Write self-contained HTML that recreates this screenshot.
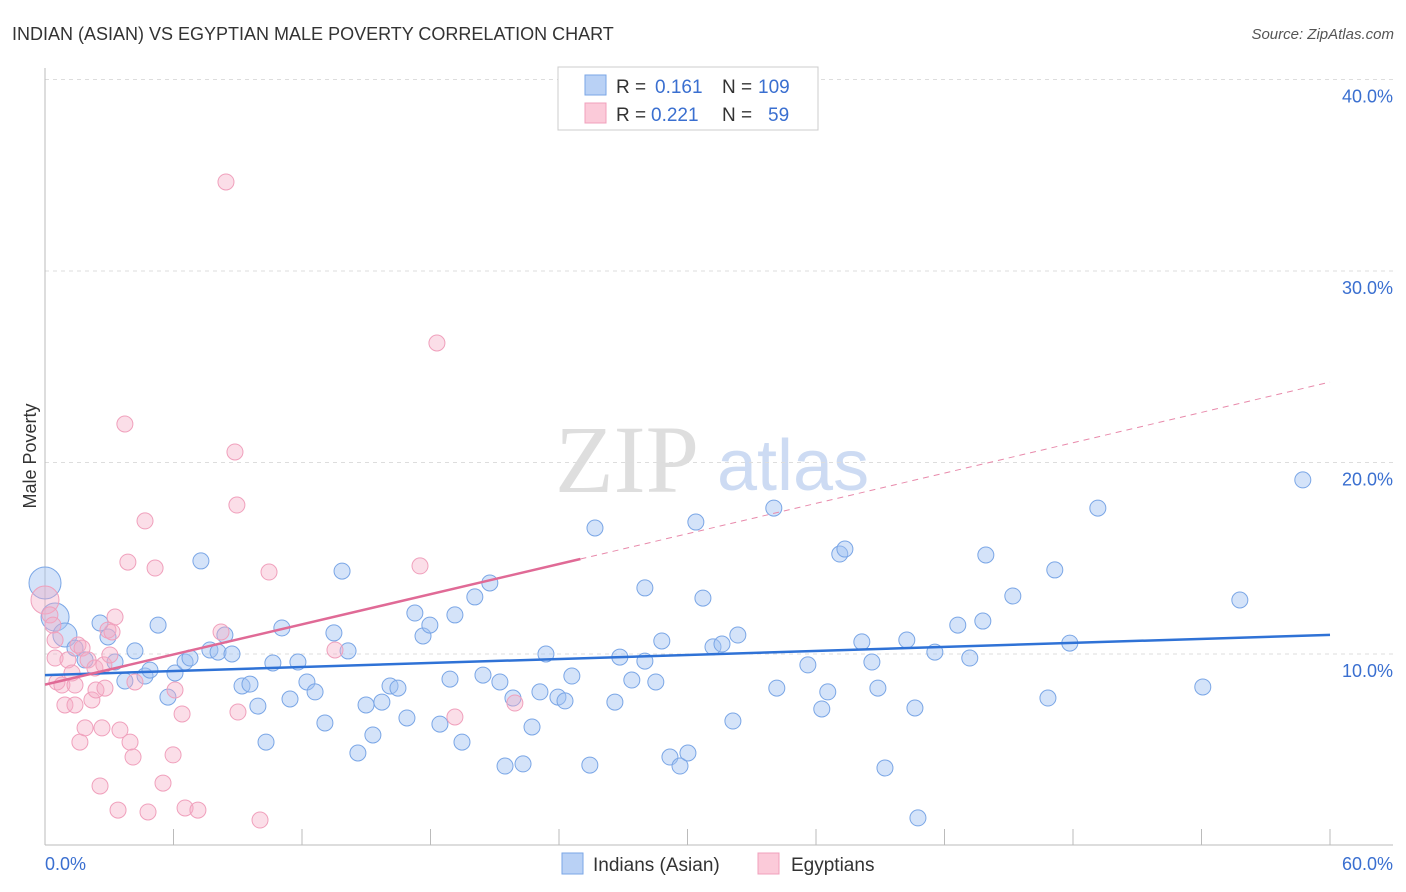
<!DOCTYPE html>
<html><head><meta charset="utf-8"><style>
html,body{margin:0;padding:0;background:#fff;}
svg{display:block;font-family:"Liberation Sans",sans-serif;}
</style></head><body>
<svg id="chart" width="1406" height="892" viewBox="0 0 1406 892">
<text x="12" y="40" font-size="18" fill="#333">INDIAN (ASIAN) VS EGYPTIAN MALE POVERTY CORRELATION CHART</text>
<text x="1394" y="39" font-size="15" fill="#555" font-style="italic" text-anchor="end">Source: ZipAtlas.com</text>
<g>
<text x="555" y="492" font-size="96" font-family="Liberation Serif,serif" fill="#d6d6d6" opacity="0.8">ZIP</text>
<text x="717" y="490" font-size="72" fill="#b8cdee" opacity="0.7">atlas</text>
</g>
<g id="grid"></g>
<g id="axes"></g>
<g id="pts-blue"></g>
<g id="pts-pink"></g>
<g id="trends"></g>
<text x="36" y="456" font-size="18" fill="#333" text-anchor="middle" transform="rotate(-90 36 456)">Male Poverty</text>
<text x="45" y="870" font-size="18" fill="#3a6fd0">0.0%</text>
<text x="1393" y="870" font-size="18" fill="#3a6fd0" text-anchor="end">60.0%</text>
<g>
<rect x="558" y="67" width="260" height="63" fill="#fff" stroke="#ccc"/>
<rect x="585" y="75" width="21" height="20" fill="#b9d1f5" stroke="#7aa6e6"/>
<text x="616" y="93" font-size="19" fill="#333">R =</text><text x="655" y="93" font-size="19" fill="#3a6fd0">0.161</text>
<text x="722" y="93" font-size="19" fill="#333">N =</text><text x="758" y="93" font-size="19" fill="#3a6fd0">109</text>
<rect x="585" y="103" width="21" height="20" fill="#fbcad9" stroke="#f0a0bc"/>
<text x="616" y="121" font-size="19" fill="#333">R =</text><text x="651" y="121" font-size="19" fill="#3a6fd0">0.221</text>
<text x="722" y="121" font-size="19" fill="#333">N =</text><text x="768" y="121" font-size="19" fill="#3a6fd0">59</text>
</g>
<g>
<rect x="562" y="853" width="21" height="21" fill="#b9d1f5" stroke="#7aa6e6"/>
<text x="593" y="871" font-size="19" fill="#333">Indians (Asian)</text>
<rect x="758" y="853" width="21" height="21" fill="#fbcad9" stroke="#f0a0bc"/>
<text x="791" y="871" font-size="19" fill="#333">Egyptians</text>
</g>
</svg>
<script>
const yTicks=[10,20,30,40];
const yTickLabels=["10.0%","20.0%","30.0%","40.0%"];
const xTicks=[0,6,12,18,24,30,36,42,48,54,60];
const blueX=[0,0.47,0.93,1.40,1.87,2.57,2.94,3.27,3.73,4.20,4.67,4.90,5.28,5.74,6.07,6.54,6.77,7.28,7.70,8.08,8.40,8.73,9.20,9.57,9.94,10.32,10.64,11.06,11.44,11.81,12.23,12.61,13.07,13.49,13.87,14.15,14.61,14.99,15.31,15.73,16.11,16.48,16.90,17.27,17.65,17.97,18.44,18.91,19.14,19.47,20.07,20.45,20.77,21.24,21.48,21.85,22.32,22.74,23.11,23.39,23.95,24.28,24.60,25.44,25.68,26.61,26.84,27.40,28.01,28.01,28.52,28.80,29.18,29.65,30.02,30.39,30.72,31.19,31.61,32.12,32.35,34.03,34.17,35.62,36.27,36.55,37.11,37.35,38.14,38.61,38.89,39.22,40.24,40.62,40.76,41.55,42.62,43.18,43.79,43.93,45.19,46.83,47.15,47.85,49.16,54.06,55.79,58.73];
const blueY=[13.71,11.93,10.99,10.31,9.69,11.62,10.89,9.58,8.59,10.16,8.85,9.16,11.51,7.75,9.01,9.58,9.79,14.86,10.21,10.10,10.99,10.00,8.33,8.43,7.28,5.40,9.53,11.36,7.65,9.58,8.54,8.02,6.40,11.10,14.33,10.16,4.83,7.34,5.77,7.49,8.33,8.22,6.66,12.14,10.94,11.51,6.34,8.69,12.04,5.40,12.98,8.90,13.71,8.54,4.15,7.70,4.26,6.19,8.02,10.00,7.75,7.55,8.85,4.20,16.58,7.49,9.84,8.64,13.45,9.63,8.54,10.68,4.62,4.15,4.83,16.89,12.92,10.37,10.52,6.50,10.99,17.62,8.22,9.43,7.13,8.02,15.22,15.48,10.63,9.58,8.22,4.05,10.73,7.18,1.44,10.10,11.51,9.79,11.72,15.17,13.03,7.70,14.39,10.57,17.62,8.28,12.82,19.09];
const blueSize=[16,14,12];
const pinkX=[0,0.23,0.37,0.47,0.47,0.56,0.79,0.93,1.07,1.26,1.40,1.40,1.54,1.63,1.73,1.87,2.01,2.19,2.33,2.38,2.57,2.66,2.75,2.80,2.94,3.03,3.13,3.27,3.41,3.50,3.73,3.87,3.97,4.11,4.20,4.67,4.81,5.14,5.51,5.98,6.07,6.40,6.54,7.14,8.22,8.45,8.87,8.96,9.01,10.04,10.46,13.54,17.51,18.30,19.14,21.94];
const pinkY=[12.82,12.04,11.51,10.73,9.79,8.54,8.38,7.34,9.69,9.01,8.38,7.34,10.47,5.40,10.31,6.14,9.69,7.60,9.27,8.12,3.11,6.14,9.43,8.22,11.25,9.95,11.15,11.93,1.85,6.03,22.01,14.80,5.40,4.62,8.54,16.95,1.75,14.49,3.26,4.73,8.12,6.87,1.96,1.85,11.15,34.65,20.55,17.78,6.97,1.33,14.28,10.21,14.60,26.24,6.71,7.44];
const pinkSize=[14];
const blueTrend=[8.9,11.0];
const pinkTrend=[8.4,14.96,24.2];
const pinkSolidEnd=25;

const X0=45,X1=1330,YB=845.5,PY=19.15;
const sx=v=>X0+(X1-X0)*v/60;
const sy=v=>YB-v*PY;
const NS="http://www.w3.org/2000/svg";
function mk(tag,attrs,parent){const e=document.createElementNS(NS,tag);for(const k in attrs)e.setAttribute(k,attrs[k]);parent.appendChild(e);return e;}
const grid=document.getElementById('grid');
yTicks.forEach((t,i)=>{
  const l=mk('line',{x1:X0,x2:1393,y1:sy(t),y2:sy(t),stroke:'#ddd','stroke-dasharray':'4,4'},grid);
  
  
  const tx=mk('text',{x:1393,y:sy(t)+23,'font-size':18,fill:'#3a6fd0','text-anchor':'end'},grid);
  tx.textContent=yTickLabels[i];
  
  
});
const axes=document.getElementById('axes');
mk('line',{x1:X0,x2:1393,y1:845,y2:845,stroke:'#bbb'},axes);
mk('line',{x1:X0,x2:X0,y1:68,y2:845,stroke:'#bbb'},axes);
xTicks.forEach(t=>{
  const l=mk('line',{x1:sx(t),x2:sx(t),y1:829,y2:845,stroke:'#bbb'},axes);
  
  
});
const gb=document.getElementById('pts-blue');
blueX.forEach((x,i)=>{
  const c=mk('circle',{cx:sx(x),cy:sy(blueY[i]),r:blueSize[i]||8,fill:'rgba(160,192,242,0.45)',stroke:'#7aa6e6','stroke-width':1},gb);
  
  
});
const gp=document.getElementById('pts-pink');
pinkX.forEach((x,i)=>{
  const c=mk('circle',{cx:sx(x),cy:sy(pinkY[i]),r:pinkSize[i]||8,fill:'rgba(246,172,198,0.4)',stroke:'#f0a0bc','stroke-width':1},gp);
  
  
});
const tr=document.getElementById('trends');
const bl=mk('line',{x1:sx(0),y1:sy(blueTrend[0]),x2:sx(60),y2:sy(blueTrend[1]),stroke:'#2f72d6','stroke-width':2.5},tr);


const ps=mk('line',{x1:sx(0),y1:sy(pinkTrend[0]),x2:sx(pinkSolidEnd),y2:sy(pinkTrend[1]),stroke:'#e06a96','stroke-width':2.5},tr);


const pd=mk('line',{x1:sx(pinkSolidEnd),y1:sy(pinkTrend[1]),x2:sx(60),y2:sy(pinkTrend[2]),stroke:'#e88aab','stroke-width':1,'stroke-dasharray':'6,5'},tr);


</script>
</body></html>
